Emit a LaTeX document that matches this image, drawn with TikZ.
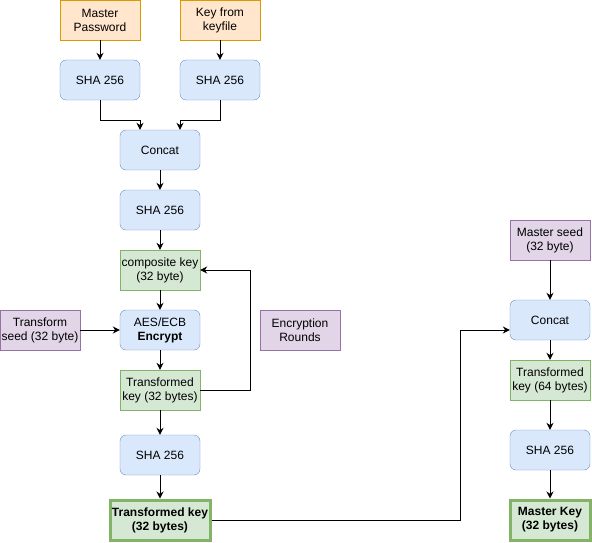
\documentclass[tikz,border=0pt]{standalone}
\usepackage{fontspec}
\setmainfont{Liberation Sans}
\usetikzlibrary{arrows.meta, positioning, calc}
\usepackage{xcolor}
\definecolor{bfill}{HTML}{DAE8FC}
\definecolor{bline}{HTML}{6C8EBF}
\definecolor{gfill}{HTML}{D5E8D4}
\definecolor{gline}{HTML}{82B366}
\definecolor{ofill}{HTML}{FFE6CC}
\definecolor{oline}{HTML}{D79B00}
\definecolor{pfill}{HTML}{E1D5E7}
\definecolor{pline}{HTML}{9673A6}

\begin{document}
\begin{tikzpicture}[
  x=1pt, y=-1pt,
  base/.style={draw, align=center, inner sep=0pt, minimum width=80pt,
               minimum height=40pt, font=\fontsize{12}{14}\selectfont},
  hash/.style={base, rounded corners=6pt, fill=bfill, draw=bline},
  keybox/.style={base, fill=gfill, draw=gline},
  final/.style={keybox, line width=3pt},
  input/.style={base, fill=ofill, draw=oline},
  param/.style={base, fill=pfill, draw=pline},
  arr/.style={-{Stealth[length=7pt, width=7pt]}, line width=1pt}
]
\useasboundingbox (0,0) rectangle (592,543);
\node[input]  (mpw)  at (100, 20) {Master\\Password};
\node[input]  (kf)   at (220, 20) {Key from\\keyfile};
\node[hash]   (sha1) at (100, 80) {SHA 256};
\node[hash]   (sha2) at (220, 80) {SHA 256};
\node[hash]   (cat)  at (160,150) {Concat};
\node[hash]   (sha3) at (160,210) {SHA 256};
\node[keybox] (ck)   at (160,270) {composite key\\(32 byte)};
\node[hash]   (aes)  at (160,330) {AES/ECB\\\textbf{Encrypt}};
\node[param]  (ts)   at ( 40,330) {Transform\\seed (32 byte)};
\node[param]  (er)   at (300,330) {Encryption\\Rounds};
\node[keybox] (tk)   at (160,390) {Transformed\\key (32 bytes)};
\node[hash]   (sha4) at (160,455) {SHA 256};
\node[final, minimum width=100pt] (tkf) at (160,520) {\textbf{Transformed key}\\\textbf{(32 bytes)}};
\node[param]  (ms)   at (550,240) {Master seed\\(32 byte)};
\node[hash]   (cat2) at (550,320) {Concat};
\node[keybox] (tk64) at (550,380) {Transformed\\key (64 bytes)};
\node[hash]   (sha5) at (550,450) {SHA 256};
\node[final]  (mk)   at (550,520) {\textbf{Master Key}\\\textbf{(32 bytes)}};
\coordinate (bend) at (460,520);
\draw[arr] (mpw) -- (sha1);
\draw[arr] (kf) -- (sha2);
\draw[arr] (sha1.south) -- ++(0,20) -| ([xshift=-20pt]cat.north);
\draw[arr] (sha2.south) -- ++(0,20) -| ([xshift=20pt]cat.north);
\draw[arr] (cat) -- (sha3);
\draw[arr] (sha3) -- (ck);
\draw[arr] (ck) -- (aes);
\draw[arr] (ts) -- (aes);
\draw[arr] (aes) -- (tk);
\draw[arr] (tk.east) -- ++(50,0) |- (ck.east);
\draw[arr] (tk) -- (sha4);
\draw[arr] (sha4) -- (tkf);
\draw[arr] (tkf.east) -- (bend) |- ([yshift=-10pt]cat2.west);
\draw[arr] (ms) -- (cat2);
\draw[arr] (cat2) -- (tk64);
\draw[arr] (tk64) -- (sha5);
\draw[arr] (sha5) -- (mk);
\end{tikzpicture}
\end{document}
